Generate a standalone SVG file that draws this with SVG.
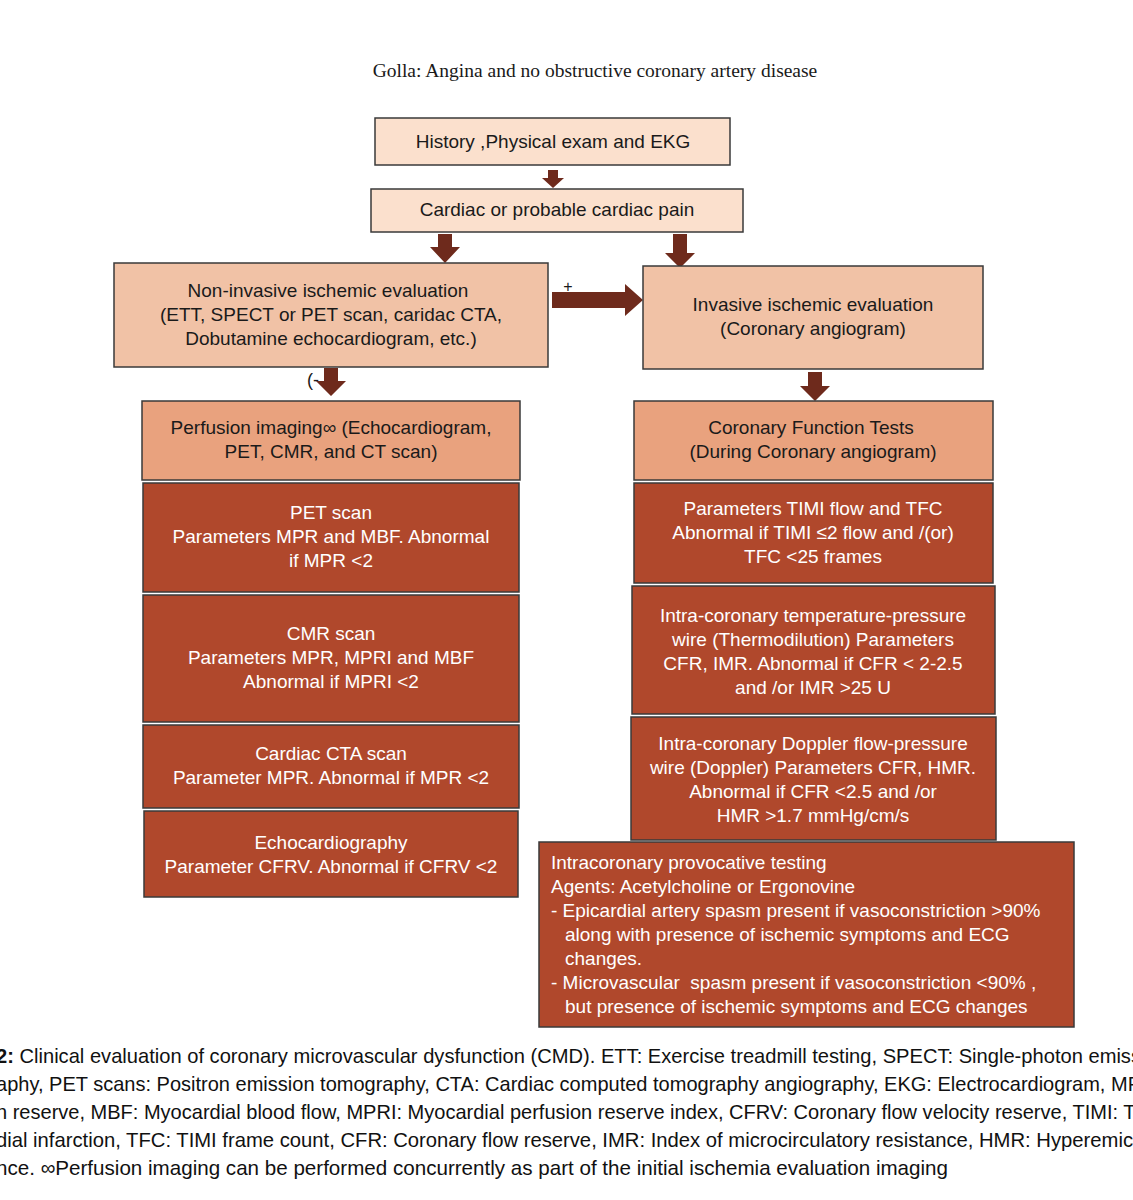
<svg xmlns="http://www.w3.org/2000/svg" width="1133" height="1200" viewBox="0 0 1133 1200">
<style>
.b rect{stroke:#3a3a3a;stroke-width:1.5}
.l{fill:#fbe0cd}.m{fill:#f1c2a6}.p{fill:#e9a27e}.d{fill:#b0482c}
text{font-family:"Liberation Sans",Arial,sans-serif;font-size:19px;text-anchor:middle}
.dt{fill:#fff}
.k{fill:#1a1a1a}
.ar{fill:#6e2a1c}
.cap{font-size:21px;text-anchor:start;fill:#111}
</style>
<rect width="1133" height="1200" fill="#fff"/>
<text x="595" y="77" style="font-family:'Liberation Serif',serif;font-size:19.5px" class="k">Golla: Angina and no obstructive coronary artery disease</text>
<g id="connectors">
<text x="307" y="386" class="k" style="font-size:18px;text-anchor:start">(-</text>
<g class="ar">
<polygon points="548,170 558,170 558,178 564,178 553,188 542,178 548,178"/>
<polygon points="438,234 452,234 452,247 460,247 445,263 430,247 438,247"/>
<polygon points="673,234 687,234 687,253 695,253 680,268 665,253 673,253"/>
<polygon points="552,292 625,292 625,284 643,300 625,316 625,308 552,308"/>
<polygon points="324,368 338,368 338,381 346,381 331,396 316,381 324,381"/>
<polygon points="808,372 822,372 822,386 830,386 815,401 800,386 808,386"/>
</g>
<text x="568" y="292" class="k" style="font-size:16px">+</text>
</g>
<g id="n1" class="b"><rect class="l" x="375" y="118" width="355" height="47"/><text x="553" y="148" class="k">History ,Physical exam and EKG</text></g>
<g id="n2" class="b"><rect class="l" x="371" y="189" width="372" height="43"/><text x="557" y="216" class="k">Cardiac or probable cardiac pain</text></g>
<g id="n3" class="b"><rect class="m" x="114" y="263" width="434" height="104"/><text class="k" x="328" y="297">Non-invasive ischemic evaluation</text><text class="k" x="331" y="321">(ETT, SPECT or PET scan, caridac CTA,</text><text class="k" x="331" y="345">Dobutamine echocardiogram, etc.)</text></g>
<g id="n4" class="b"><rect class="m" x="643" y="266" width="340" height="103"/><text class="k" x="813" y="311">Invasive ischemic evaluation</text><text class="k" x="813" y="335">(Coronary angiogram)</text></g>
<g id="n5" class="b"><rect class="p" x="142" y="401" width="378" height="79"/><text class="k" x="331" y="434">Perfusion imaging∞ (Echocardiogram,</text><text class="k" x="331" y="458">PET, CMR, and CT scan)</text></g>
<g id="n6" class="b"><rect class="p" x="634" y="401" width="359" height="79"/><text class="k" x="811" y="434">Coronary Function Tests</text><text class="k" x="813" y="458">(During Coronary angiogram)</text></g>
<g id="n7" class="b"><rect class="d" x="143" y="483" width="376" height="109"/><text class="dt" x="331" y="519">PET scan</text><text class="dt" x="331" y="543">Parameters MPR and MBF. Abnormal</text><text class="dt" x="331" y="567">if MPR &lt;2</text></g>
<g id="n8" class="b"><rect class="d" x="143" y="595" width="376" height="127"/><text class="dt" x="331" y="640">CMR scan</text><text class="dt" x="331" y="664">Parameters MPR, MPRI and MBF</text><text class="dt" x="331" y="688">Abnormal if MPRI &lt;2</text></g>
<g id="n9" class="b"><rect class="d" x="143" y="725" width="376" height="83"/><text class="dt" x="331" y="760">Cardiac CTA scan</text><text class="dt" x="331" y="784">Parameter MPR. Abnormal if MPR &lt;2</text></g>
<g id="n10" class="b"><rect class="d" x="144" y="811" width="374" height="86"/><text class="dt" x="331" y="849">Echocardiography</text><text class="dt" x="331" y="873">Parameter CFRV. Abnormal if CFRV &lt;2</text></g>
<g id="n11" class="b"><rect class="d" x="634" y="483" width="359" height="100"/><text class="dt" x="813" y="515">Parameters TIMI flow and TFC</text><text class="dt" x="813" y="539">Abnormal if TIMI ≤2 flow and /(or)</text><text class="dt" x="813" y="563">TFC &lt;25 frames</text></g>
<g id="n12" class="b"><rect class="d" x="632" y="586" width="363" height="128"/><text class="dt" x="813" y="622">Intra-coronary temperature-pressure</text><text class="dt" x="813" y="646">wire (Thermodilution) Parameters</text><text class="dt" x="813" y="670">CFR, IMR. Abnormal if CFR &lt; 2-2.5</text><text class="dt" x="813" y="694">and /or IMR &gt;25 U</text></g>
<g id="n13" class="b"><rect class="d" x="631" y="717" width="365" height="123"/><text class="dt" x="813" y="750">Intra-coronary Doppler flow-pressure</text><text class="dt" x="813" y="774">wire (Doppler) Parameters CFR, HMR.</text><text class="dt" x="813" y="798">Abnormal if CFR &lt;2.5 and /or</text><text class="dt" x="813" y="822">HMR &gt;1.7 mmHg/cm/s</text></g>
<g id="n14" class="b"><rect class="d" x="539" y="842" width="535" height="185"/>
<text class="dt" x="551" y="869" style="text-anchor:start">Intracoronary provocative testing</text>
<text class="dt" x="551" y="893" style="text-anchor:start">Agents: Acetylcholine or Ergonovine</text>
<text class="dt" x="551" y="917" style="text-anchor:start">- Epicardial artery spasm present if vasoconstriction &gt;90%</text>
<text class="dt" x="565" y="941" style="text-anchor:start">along with presence of ischemic symptoms and ECG</text>
<text class="dt" x="565" y="965" style="text-anchor:start">changes.</text>
<text class="dt" x="551" y="989" style="text-anchor:start" xml:space="preserve">- Microvascular  spasm present if vasoconstriction &lt;90% ,</text>
<text class="dt" x="565" y="1013" style="text-anchor:start">but presence of ischemic symptoms and ECG changes</text>
</g>
<g id="caption">
<text class="cap" x="-4" y="1063" textLength="1145" lengthAdjust="spacingAndGlyphs"><tspan font-weight="bold">2:</tspan> Clinical evaluation of coronary microvascular dysfunction (CMD). ETT: Exercise treadmill testing, SPECT: Single-photon emiss</text>
<text class="cap" x="-4" y="1091" textLength="1145" lengthAdjust="spacingAndGlyphs">aphy, PET scans: Positron emission tomography, CTA: Cardiac computed tomography angiography, EKG: Electrocardiogram, MP</text>
<text class="cap" x="-4" y="1119" textLength="1145" lengthAdjust="spacingAndGlyphs">n reserve, MBF: Myocardial blood flow, MPRI: Myocardial perfusion reserve index, CFRV: Coronary flow velocity reserve, TIMI: TI</text>
<text class="cap" x="-4" y="1147" textLength="1137" lengthAdjust="spacingAndGlyphs">dial infarction, TFC: TIMI frame count, CFR: Coronary flow reserve, IMR: Index of microcirculatory resistance, HMR: Hyperemic</text>
<text class="cap" x="-4" y="1175" textLength="952" lengthAdjust="spacingAndGlyphs">nce. ∞Perfusion imaging can be performed concurrently as part of the initial ischemia evaluation imaging</text>
</g>
</svg>
